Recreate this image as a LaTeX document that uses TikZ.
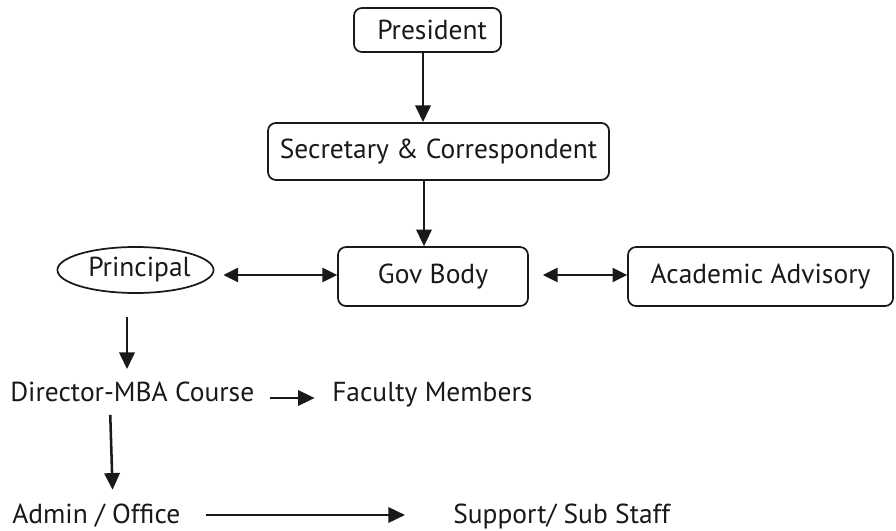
\documentclass[tikz,border=0pt]{standalone}
\usepackage{fontspec}
\setmainfont{PT Sans}
\usetikzlibrary{arrows.meta, shapes.geometric}

\tikzset{
  orgbox/.style = {draw, rounded corners = 6pt, line width = 1.3pt, inner sep = 0pt},
  orgtext/.style = {inner sep = 0pt, text height = 15pt, text depth = 4pt},
  orgarrow/.style = {line width = 1.9pt, -{Triangle[length = 12.5pt, width = 11.5pt]}},
  twoway/.style = {line width = 1.9pt, {Triangle[length = 11pt, width = 10.5pt]}-{Triangle[length = 11pt, width = 10.5pt]}}
}

\begin{document}
\begin{tikzpicture}[x = 1pt, y = 1pt, font = \fontsize{20.6}{24}\selectfont, color = black!90]
\useasboundingbox (0,0) rectangle (672,-398.25);

\node[orgbox, minimum width = 110.3pt, minimum height = 33pt] (pres) at (320.6,-22.5) {\hspace*{7pt}President};
\node[orgbox, minimum width = 255.8pt, minimum height = 42.8pt] (sec) at (328.9,-113.6) {Secretary \& Correspondent};
\node[orgbox, minimum width = 142.5pt, minimum height = 44.25pt] (gov) at (324.75,-207.4) {Gov Body};
\node[orgbox, minimum width = 198.75pt, minimum height = 44.25pt] (acad) at (570.4,-207.4) {Academic Advisory};
\node[draw, ellipse, line width = 1.3pt, inner sep = 0pt, minimum width = 95.25pt, minimum height = 34.5pt] (prin) at (101.6,-202.5) {\hspace*{6pt}Principal};

\node[orgtext, anchor = west] (dir) at (7.5,-295.5) {Director-MBA Course};
\node[orgtext, anchor = west] (fac) at (249,-295.5) {Faculty Members};
\node[orgtext, anchor = west] (admin) at (9,-387) {Admin / Office};
\node[orgtext, anchor = west] (supp) at (339.75,-387) {Support/ Sub Staff};

\draw[orgarrow] (pres.south -| 317.25,0) -- (sec.north -| 317.25,0);
\draw[orgarrow] (sec.south -| 318,0) -- (gov.north -| 318,0);
\draw[twoway, shorten <= 6.75pt] (prin.east |- 0,-206.25) -- (gov.west |- 0,-206.25);
\draw[twoway, shorten <= 10.5pt] (gov.east |- 0,-206.25) -- (acad.west |- 0,-206.25);

\draw[orgarrow, shorten <= 17pt, shorten >= 9pt] (prin.south -| 95.25,0) -- (dir.north -| 95.25,0);
\draw[orgarrow, shorten <= 12pt, shorten >= 13pt] (dir.east |- 0,-298.5) -- (fac.west |- 0,-298.5);
\draw[orgarrow, shorten <= 6pt, shorten >= 10pt] (dir.south -| 82.5,0) -- (admin.north -| 84.75,0);
\draw[orgarrow, shorten <= 18.75pt, shorten >= 36pt] (admin.east |- 0,-386.25) -- (supp.west |- 0,-386.25);
\end{tikzpicture}
\end{document}
